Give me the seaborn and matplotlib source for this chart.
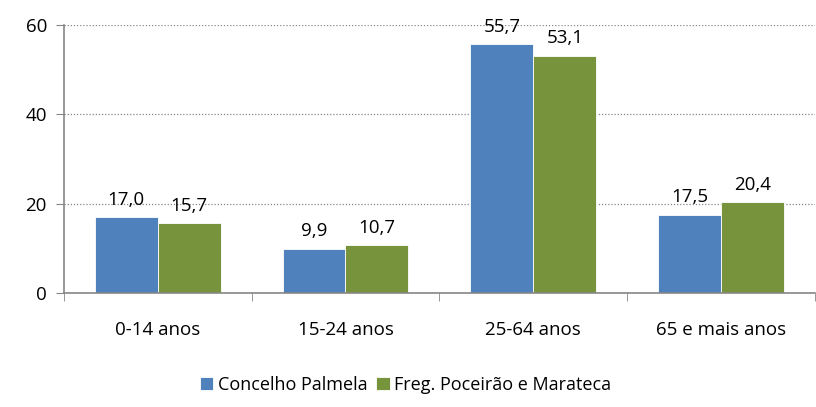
import pandas as pd
import matplotlib.pyplot as plt
import seaborn as sns

# Data
categories = ["0-14 anos", "15-24 anos", "25-64 anos", "65 e mais anos"]
palmela = [17.0, 9.9, 55.7, 17.5]
poceirao = [15.7, 10.7, 53.1, 20.4]
series = ["Concelho Palmela", "Freg. Poceirão e Marateca"]

df = pd.DataFrame({
    "categoria": categories * 2,
    "valor": palmela + poceirao,
    "serie": [series[0]] * 4 + [series[1]] * 4,
})

sns.set_style("white")
plt.rcParams["font.family"] = ["Open Sans", "DejaVu Sans"]
plt.rcParams["text.color"] = "black"
plt.rcParams["xtick.labelcolor"] = "black"
plt.rcParams["ytick.labelcolor"] = "black"

fig = plt.figure(figsize=(8.16, 4.07), dpi=100)
ax = fig.add_axes([0.078, 0.28, 0.921, 0.659])

sns.barplot(data=df, x="categoria", y="valor", hue="serie",
            palette=["#4F81BD", "#77933C"], width=0.67, saturation=1,
            edgecolor="white", linewidth=0.6, ax=ax)

for cont in ax.containers:
    ax.bar_label(cont, labels=[f"{v:.1f}".replace(".", ",") for v in cont.datavalues],
                 padding=6, fontsize=13.5, color="black")

ax.set_ylim(0, 60)
ax.set_yticks([0, 20, 40, 60])
ax.set_xlim(-0.5, 3.5)
ax.set_xlabel("")
ax.set_ylabel("")
ax.yaxis.grid(True, linestyle=(0, (1, 1.5)), color="#868686", linewidth=0.9)
ax.set_axisbelow(True)

for s in ["top", "right"]:
    ax.spines[s].set_visible(False)
for s in ["left", "bottom"]:
    ax.spines[s].set_color("#868686")
    ax.spines[s].set_linewidth(1.2)

ax.tick_params(axis="y", which="major", direction="out", length=6, color="#868686",
               left=True, labelsize=13.5, pad=6)
ax.tick_params(axis="x", which="major", length=0, labelsize=13.5, pad=20)
ax.set_xticks([-0.5, 0.5, 1.5, 2.5, 3.5], minor=True)
ax.tick_params(axis="x", which="minor", direction="out", length=6, color="#868686",
               bottom=True)

ax.legend(loc="center", bbox_to_anchor=(0.455, -0.343), ncol=2, frameon=False,
          fontsize=13, handlelength=0.75, handleheight=0.75, handletextpad=0.25,
          columnspacing=0.5, borderaxespad=0)

plt.savefig("out.png", dpi=100)
